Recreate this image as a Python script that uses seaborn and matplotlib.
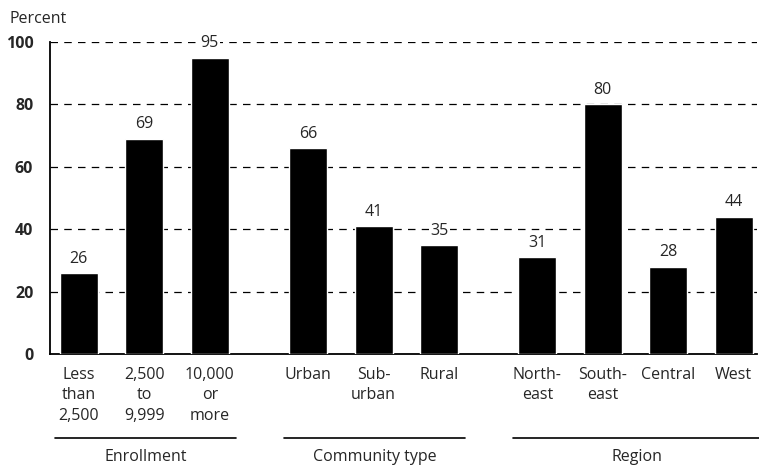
import pandas as pd
import numpy as np
import seaborn as sns
import matplotlib.pyplot as plt
from matplotlib.transforms import blended_transform_factory

# chart values
groups = ["Enrollment", "Community type", "Region"]
labels = [
    ["Less\nthan\n2,500", "2,500\nto\n9,999", "10,000\nor\nmore"],
    ["Urban", "Sub-\nurban", "Rural"],
    ["North-\neast", "South-\neast", "Central", "West"],
]
values = [
    [26, 69, 95],
    [66, 41, 35],
    [31, 80, 28, 44],
]
yticks = [0, 20, 40, 60, 80, 100]

# build table with positions, extra gap between groups
group_gap = 0.5
rows = []
pos = 0.0
for g, (name, labs, vals) in enumerate(zip(groups, labels, values)):
    for lab, v in zip(labs, vals):
        rows.append({"group": name, "label": lab, "value": v, "pos": pos})
        pos += 1
    pos += group_gap
df = pd.DataFrame(rows)

sns.set_style("white")
plt.rcParams["font.family"] = ["Open Sans", "DejaVu Sans"]

fig = plt.figure(figsize=(7.59, 4.65), dpi=100)
ax = fig.add_axes([0.0659, 0.2387, 0.9311, 0.671])

sns.barplot(data=df, x="pos", y="value", native_scale=True, color="black",
            width=0.58, saturation=1, ax=ax, zorder=3)

ax.set_xlim(-0.44, 10.35)
ax.set_ylim(0, 100)
for t in yticks[1:]:
    ax.axhline(t, color="black", lw=0.9, ls=(0, (6, 5)), zorder=1)

ax.set_yticks(yticks)
ax.set_yticklabels([str(t) for t in yticks], fontsize=11.5, fontweight="bold")
ax.tick_params(axis="y", length=0, pad=12)
ax.set_xticks(df["pos"])
ax.set_xticklabels(df["label"], fontsize=11.5, linespacing=1.4, va="top")
ax.tick_params(axis="x", length=0, pad=9)
ax.set_xlabel("")
ax.set_ylabel("")

for s in ["top", "right"]:
    ax.spines[s].set_visible(False)
ax.spines["left"].set_linewidth(1.3)
ax.spines["bottom"].set_linewidth(1.3)
ax.spines["left"].set_color("black")
ax.spines["bottom"].set_color("black")

# value labels
for _, r in df.iterrows():
    ax.text(r["pos"], r["value"] + 2, str(r["value"]), ha="center", va="bottom",
            fontsize=11.5, zorder=4,
            bbox=dict(facecolor="white", edgecolor="none", pad=1))

# group underlines and names
trans = blended_transform_factory(ax.transData, ax.transAxes)
for name in groups:
    p = df.loc[df["group"] == name, "pos"]
    x0, x1 = p.min() - 0.37, p.max() + 0.4
    ax.plot([x0, x1], [-0.269, -0.269], color="black", lw=1.2,
            transform=trans, clip_on=False)
    ax.text((x0 + x1) / 2, -0.33, name, ha="center", va="center",
            fontsize=11.5, transform=trans)

fig.text(0.013, 0.96, "Percent", fontsize=11.5, ha="left", va="center")

fig.savefig("out.png", dpi=100)
